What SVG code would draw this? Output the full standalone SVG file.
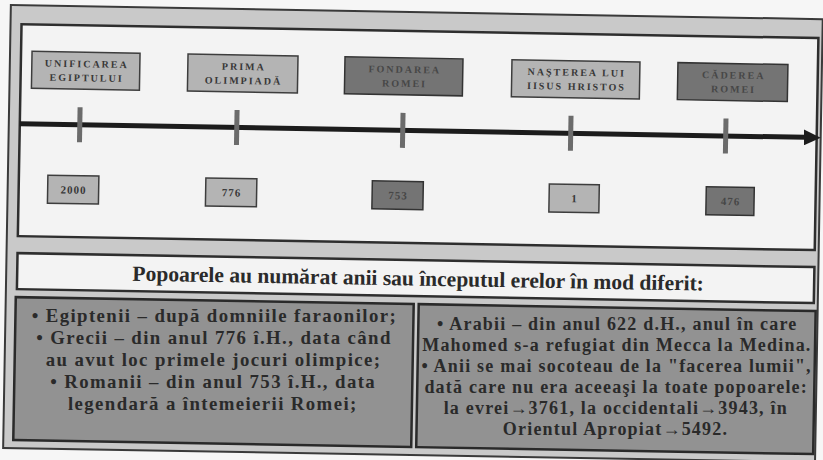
<svg xmlns="http://www.w3.org/2000/svg" width="823" height="460" viewBox="0 0 823 460">
<defs>
<style>
.frame{fill:#c9c9c9;stroke:#3a3a3a;stroke-width:2}
.panel{fill:#f3f3f3;stroke:#2e2e2e;stroke-width:2.5}
.light{fill:#b4b4b4;stroke:#3d3d3d;stroke-width:1.5}
.dark{fill:#747474;stroke:#333333;stroke-width:1.5}
.lt{font-family:"Liberation Serif","DejaVu Serif",serif;font-weight:bold;font-size:10px;letter-spacing:2px;text-anchor:middle;fill:#383838}
.dt{font-family:"Liberation Serif","DejaVu Serif",serif;font-weight:bold;font-size:10px;letter-spacing:2px;text-anchor:middle;fill:#474747}
.num{letter-spacing:1px;font-size:11px}
.axis{stroke:#1c1c1c;stroke-width:5;fill:none}
.tick{stroke:#6b6b6b;stroke-width:5}
.info{fill:#929292;stroke:#2a2a2a;stroke-width:2.5}
.bt{font-family:"Liberation Serif","DejaVu Serif",serif;font-weight:bold;fill:#2a2a2a;text-anchor:middle}
.bl{font-size:18.8px;letter-spacing:1.4px}
.br{font-size:18px;letter-spacing:1.2px}
</style>
<marker id="arrow" markerUnits="userSpaceOnUse" viewBox="0 0 17 16" markerWidth="17" markerHeight="16" refX="2" refY="8" orient="auto">
<path d="M0,0 L17,8 L0,16 z" fill="#1c1c1c"/>
</marker>
</defs>
<rect x="0" y="0" width="823" height="460" fill="#f6f6f6"/>
<g transform="rotate(1 411 230)">
<g id="frame">
<rect class="frame" x="7" y="12" width="812" height="443"/>
<rect class="panel" x="18" y="31" width="797" height="212"/>
</g>
<g id="connectors">
<line class="axis" x1="18" y1="130.5" x2="804" y2="130.5" marker-end="url(#arrow)"/>
<line class="tick" x1="78" y1="113" x2="78" y2="148"/>
<line class="tick" x1="235" y1="113" x2="235" y2="148"/>
<line class="tick" x1="401" y1="113" x2="401" y2="148"/>
<line class="tick" x1="569" y1="113" x2="569" y2="148"/>
<line class="tick" x1="724" y1="113" x2="724" y2="148"/>
</g>
<g id="ev-egipt">
<rect class="light" x="29" y="58" width="108" height="37"/>
<text class="lt" x="84" y="73">UNIFICAREA</text>
<text class="lt" x="84" y="87">EGIPTULUI</text>
</g>
<g id="ev-olimpiada">
<rect class="light" x="185" y="58" width="110" height="37"/>
<text class="lt" x="241" y="73">PRIMA</text>
<text class="lt" x="241" y="87">OLIMPIADĂ</text>
</g>
<g id="ev-roma">
<rect class="dark" x="342" y="58" width="118" height="37"/>
<text class="dt" x="402" y="73">FONDAREA</text>
<text class="dt" x="402" y="87">ROMEI</text>
</g>
<g id="ev-iisus">
<rect class="light" x="509" y="58" width="128" height="37"/>
<text class="lt" x="574" y="73">NAŞTEREA LUI</text>
<text class="lt" x="574" y="87">IISUS HRISTOS</text>
</g>
<g id="ev-caderea">
<rect class="dark" x="675" y="58" width="110" height="37"/>
<text class="dt" x="731" y="73">CĂDEREA</text>
<text class="dt" x="731" y="87">ROMEI</text>
</g>
<g id="yr-2000">
<rect class="light" x="47" y="181.5" width="51" height="28"/>
<text class="lt num" x="73" y="199.5">2000</text>
</g>
<g id="yr-776">
<rect class="light" x="205" y="181.5" width="51" height="28"/>
<text class="lt num" x="231" y="199.5">776</text>
</g>
<g id="yr-753">
<rect class="dark" x="371.5" y="181.5" width="51" height="28"/>
<text class="dt num" x="397.5" y="199.5">753</text>
</g>
<g id="yr-1">
<rect class="light" x="548.5" y="181.5" width="50" height="28"/>
<text class="lt num" x="574" y="199.5">1</text>
</g>
<g id="yr-476">
<rect class="dark" x="705.5" y="181.5" width="48" height="28"/>
<text class="dt num" x="730" y="199.5">476</text>
</g>
<g id="title">
<rect class="panel" x="18" y="260" width="797" height="36" stroke-width="2"/>
<text class="bt" x="419" y="285.5" font-size="21.5">Popoarele au numărat anii sau începutul erelor în mod diferit:</text>
</g>
<g id="info-left-box">
<rect class="info" x="17" y="304" width="398" height="143"/>
</g>
<g id="info-right-box">
<rect class="info" x="420" y="304" width="397" height="143"/>
</g>
</g>
<g id="info-left">
<text class="bt bl" x="214.4" y="321.6">• Egiptenii – după domniile faraonilor;</text>
<text class="bt bl" x="214.0" y="343.6">• Grecii – din anul 776 î.H., data când</text>
<text class="bt bl" x="213.6" y="365.6">au avut loc primele jocuri olimpice;</text>
<text class="bt bl" x="213.2" y="387.6">• Romanii – din anul 753 î.H., data</text>
<text class="bt bl" x="212.8" y="409.6">legendară a întemeierii Romei;</text>
</g>
<g id="info-right">
<text class="bt br" x="617.3" y="329.6">• Arabii – din anul 622 d.H., anul în care</text>
<text class="bt br" x="616.9" y="350.6">Mahomed s-a refugiat din Mecca la Medina.</text>
<text class="bt br" x="616.6" y="371.6">• Anii se mai socoteau de la "facerea lumii",</text>
<text class="bt br" x="616.2" y="392.6">dată care nu era aceeaşi la toate popoarele:</text>
<text class="bt br" x="615.8" y="413.6">la evrei→3761, la occidentali→3943, în</text>
<text class="bt br" x="615.5" y="434.6">Orientul Apropiat→5492.</text>
</g>
</svg>
